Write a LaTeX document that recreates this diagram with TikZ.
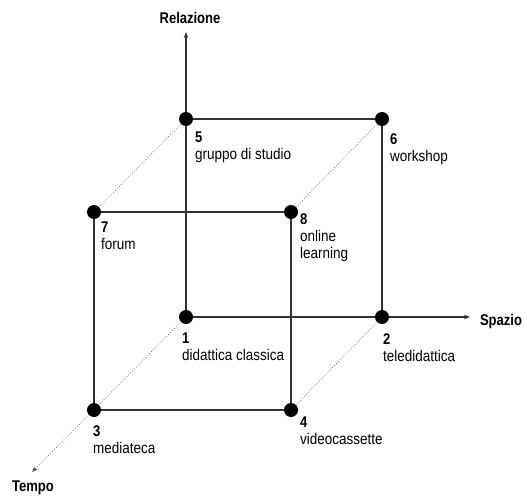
\documentclass[tikz,border=0pt]{standalone}
\usepackage{fontspec}
\setmainfont{Liberation Sans}[FakeStretch=0.87, BoldFeatures={FakeStretch=0.84}]
\usetikzlibrary{arrows.meta}
\begin{document}
\begin{tikzpicture}[x=1pt,y=-1pt,
  dotn/.style={circle, fill=black, minimum size=14pt, inner sep=0pt},
  edgeline/.style={draw=black!80, line width=1.1pt},
  hidden/.style={draw=black!65, dotted, line width=0.7pt},
  lab/.style={anchor=north west, inner sep=0pt, align=left, font=\fontsize{15.5}{17}\selectfont},
  axlab/.style={font=\fontsize{15.5}{17}\selectfont\bfseries, inner sep=0pt},
  tip/.style={-{Stealth[length=6pt,width=4.5pt]}}
]
\useasboundingbox (0,0) rectangle (527,497);
% corners
\coordinate (c1) at (186,317);
\coordinate (c2) at (382,317);
\coordinate (c3) at (94,410);
\coordinate (c4) at (291,410);
\coordinate (c5) at (186,119);
\coordinate (c6) at (382,119);
\coordinate (c7) at (94,212);
\coordinate (c8) at (291,212);
\coordinate (rtip) at (186,32);
\coordinate (stip) at (470,317);
\coordinate (ttip) at (32,472);
% hidden (dotted) edges
\draw[hidden] (c5) -- (c7);
\draw[hidden] (c6) -- (c8);
\draw[hidden] (c2) -- (c4);
\draw[hidden,tip] (c1) -- (ttip);
% solid edges
\draw[edgeline] (c5) -- (c6);
\draw[edgeline] (c7) -- (c8);
\draw[edgeline] (c6) -- (c2);
\draw[edgeline] (c7) -- (c3);
\draw[edgeline] (c8) -- (c4);
\draw[edgeline] (c3) -- (c4);
\draw[edgeline,tip] (c1) -- (rtip);
\draw[edgeline,tip] (c1) -- (stip);
% dots
\foreach \i in {1,...,8} { \node[dotn] (n\i) at (c\i) {}; }
% labels
\node[lab] (l1) at (182,333) {\textbf{1}\\didattica classica};
\node[lab] (l2) at (383,333) {\textbf{2}\\teledidattica};
\node[lab] (l3) at (93,425) {\textbf{3}\\mediateca};
\node[lab] (l4) at (300,417) {\textbf{4}\\videocassette};
\node[lab] (l5) at (195,132) {\textbf{5}\\gruppo di studio};
\node[lab] (l6) at (390,133) {\textbf{6}\\workshop};
\node[lab] (l7) at (101,222) {\textbf{7}\\forum};
\node[lab] (l8) at (300,213) {\textbf{8}\\online\\learning};
% axis labels
\node[axlab] (rel) at (190,18) {Relazione};
\node[axlab] (spa) at (501,321) {Spazio};
\node[axlab] (tem) at (33,488) {Tempo};
\end{tikzpicture}
\end{document}
